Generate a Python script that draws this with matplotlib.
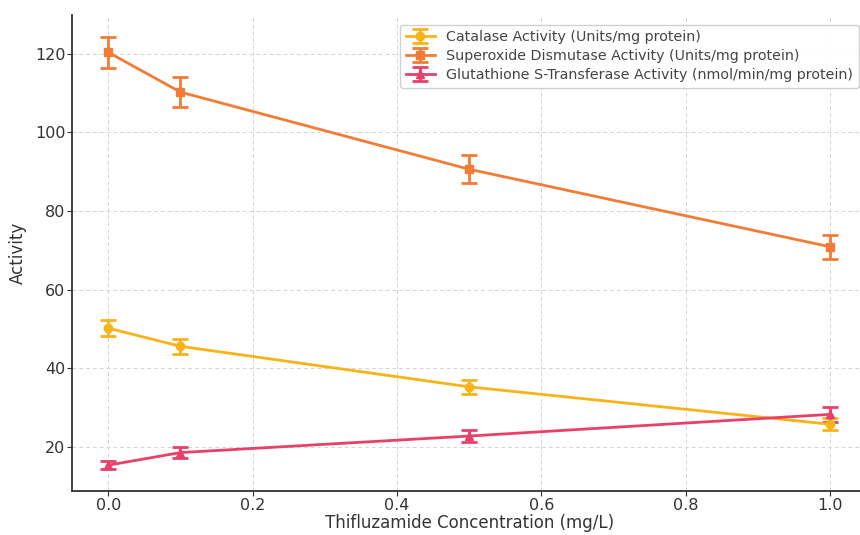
import numpy as np
import matplotlib.pyplot as plt

# Данные
concentration = [0.0, 0.1, 0.5, 1.0]

catalase = [50.2, 45.6, 35.3, 25.8]
catalase_err = [2.0, 1.9, 1.8, 1.5]

sod = [120.3, 110.2, 90.6, 70.9]
sod_err = [4.0, 3.8, 3.5, 3.0]

gst = [15.4, 18.6, 22.8, 28.3]
gst_err = [1.1, 1.3, 1.5, 2.0]

labels = [
    "Catalase Activity (Units/mg protein)",
    "Superoxide Dismutase Activity (Units/mg protein)",
    "Glutathione S-Transferase Activity (nmol/min/mg protein)",
]
colors = ["#f9b316", "#f27b35", "#e9406a"]
markers = ["o", "s", "^"]

fig = plt.figure(figsize=(8.6, 5.35), dpi=100)
ax = fig.add_axes([0.084, 0.082, 0.923, 0.890])

series = [(catalase, catalase_err), (sod, sod_err), (gst, gst_err)]
for (vals, errs), lab, c, m in zip(series, labels, colors, markers):
    ax.errorbar(concentration, vals, yerr=errs, label=lab, color=c, marker=m,
                markersize=6, linewidth=2, elinewidth=2, capsize=6, capthick=2)

ax.set_xlabel("Thifluzamide Concentration (mg/L)", fontsize=12, color="#333333", labelpad=1)
ax.set_ylabel("Activity", fontsize=12, color="#333333", labelpad=6)
ax.tick_params(labelsize=11.5, colors="#333333", length=3.5, pad=1.5)
ax.grid(True, linestyle=(0, (4, 3)), linewidth=0.7, color="#d4d4d4")
for side in ["top", "right"]:
    ax.spines[side].set_visible(False)
for side in ["left", "bottom"]:
    ax.spines[side].set_color("#333333")
    ax.spines[side].set_linewidth(1.3)

leg = ax.legend(loc="upper right", fontsize=10.3, framealpha=0.9,
                labelspacing=0.35, handlelength=2.0, borderpad=0.4,
                bbox_to_anchor=(1.0, 0.995))
for t in leg.get_texts():
    t.set_color("#444444")

fig.savefig("out.png", dpi=100)
